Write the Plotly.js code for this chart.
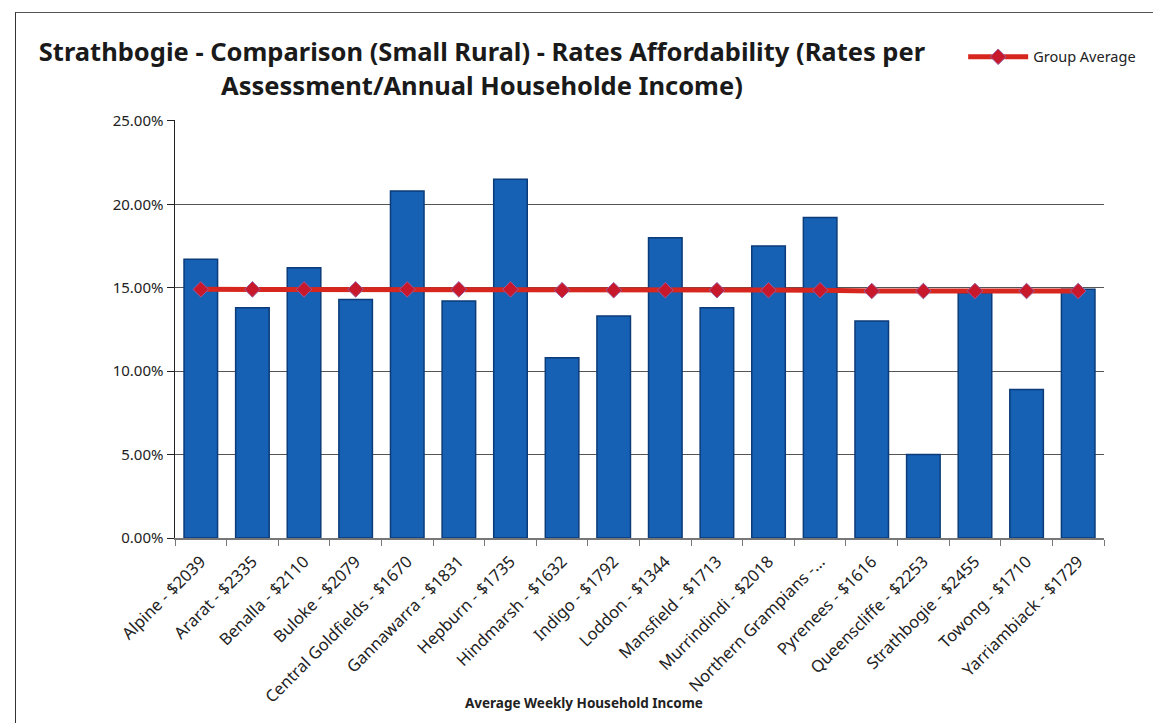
<!DOCTYPE html>
<html>
<head>
<meta charset="utf-8">
<script src="https://cdn.plot.ly/plotly-3.0.1.min.js"></script>
<style>
  html, body { margin: 0; padding: 0; background: #ffffff; }
  #frame { position: absolute; left: 15px; top: 12px; width: 1138px; height: 711px;
           border-left: 1.5px solid #333; border-top: 1.5px solid #555; box-sizing: border-box; }
  #chart { position: absolute; left: 0; top: 0; width: 1153px; height: 723px; }
</style>
</head>
<body>
<div id="frame"></div>
<div id="chart"></div>
<script>
const categories = [
  "Alpine - $2039", "Ararat - $2335", "Benalla - $2110", "Buloke - $2079",
  "Central Goldfields - $1670", "Gannawarra - $1831", "Hepburn - $1735",
  "Hindmarsh - $1632", "Indigo - $1792", "Loddon - $1344", "Mansfield - $1713",
  "Murrindindi - $2018", "Northern Grampians -...", "Pyrenees - $1616",
  "Queenscliffe - $2253", "Strathbogie - $2455", "Towong - $1710",
  "Yarriambiack - $1729"
];
const affordability = [16.7, 13.8, 16.2, 14.3, 20.8, 14.2, 21.5, 10.8, 13.3, 18.0,
                       13.8, 17.5, 19.2, 13.0, 5.0, 14.7, 8.9, 14.9];
const groupAverage = [14.9, 14.9, 14.9, 14.9, 14.9, 14.9, 14.9, 14.85, 14.85, 14.85,
                      14.85, 14.85, 14.85, 14.8, 14.8, 14.8, 14.8, 14.8];
const yTickVals = [0, 5, 10, 15, 20, 25];
const yTickText = ["0.00%", "5.00%", "10.00%", "15.00%", "20.00%", "25.00%"];

const font = "Noto Sans, Open Sans, sans-serif";

const traces = [
  {
    type: "bar",
    x: categories,
    y: affordability,
    name: "Rates Affordability",
    showlegend: false,
    marker: { color: "#1761b5", line: { color: "#0b3b78", width: 1.5 } },
    hoverinfo: "x+y"
  },
  {
    type: "scatter",
    mode: "lines+markers",
    x: categories,
    y: groupAverage,
    name: "Group Average",
    line: { color: "#d7261e", width: 5 },
    marker: { symbol: "diamond", size: 12, color: "#c8182c",
              line: { color: "#9a5a9a", width: 1 } }
  }
];

const layout = {
  width: 1153,
  height: 723,
  margin: { l: 175, r: 42, t: 120, b: 185 },
  paper_bgcolor: "rgba(0,0,0,0)",
  plot_bgcolor: "#ffffff",
  font: { family: font, size: 13, color: "#222" },
  title: {
    text: "<b>Strathbogie - Comparison (Small Rural) - Rates Affordability (Rates per<br>Assessment/Annual Householde Income)</b>",
    font: { family: font, size: 25.5, color: "#1a1a1a" },
    x: 0.418, xanchor: "center", xref: "container",
    y: 0.915, yanchor: "middle", yref: "container"
  },
  bargap: 0.35,
  xaxis: {
    type: "category",
    range: [-0.5, 17.5],
    tickangle: -45,
    tickfont: { family: font, size: 16.5, color: "#222" },
    ticklabelstandoff: 6,
    showline: true, linecolor: "#777", linewidth: 1.5,
    ticks: "outside", ticklen: 6, tickcolor: "#777",
    tickson: "boundaries",
    showgrid: false,
    zeroline: false,
    fixedrange: true
  },
  yaxis: {
    range: [0, 25.05],
    tickvals: yTickVals,
    ticktext: yTickText,
    tickfont: { family: font, size: 15, color: "#222" },
    showline: true, linecolor: "#222", linewidth: 1.5,
    ticks: "outside", ticklen: 7, tickcolor: "#222",
    gridcolor: "#555", gridwidth: 1,
    zeroline: false,
    fixedrange: true
  },
  showlegend: true,
  legend: {
    x: 1.04, xanchor: "right", y: 1.151, yanchor: "middle",
    itemwidth: 60,
    font: { family: font, size: 14.5, color: "#222" },
    bgcolor: "rgba(0,0,0,0)"
  },
  annotations: [
    {
      text: "<b>Average Weekly Household Income</b>",
      xref: "paper", yref: "paper",
      x: 0.44, y: -0.395, xanchor: "center", yanchor: "middle",
      showarrow: false,
      font: { family: font, size: 13.5, color: "#222" }
    }
  ]
};

Plotly.newPlot("chart", traces, layout, { displayModeBar: false, staticPlot: true });
</script>
</body>
</html>
